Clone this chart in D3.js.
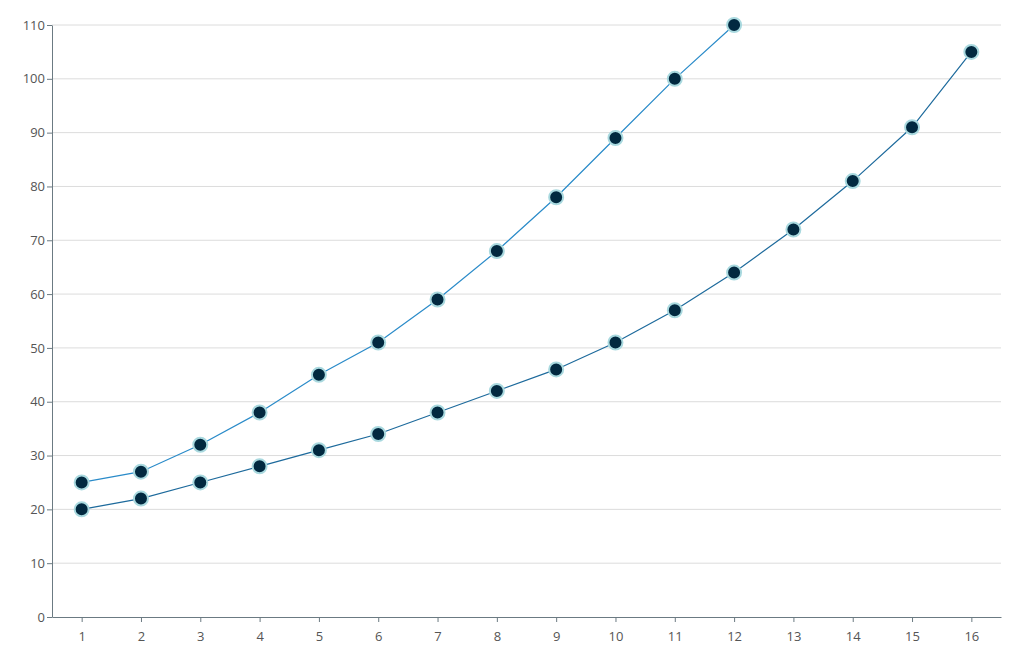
<!DOCTYPE html>
<html>
<head>
<meta charset="utf-8">
<script src="https://cdn.jsdelivr.net/npm/d3@7"></script>
<style>
  body { margin: 0; background: #fff; }
  .grid line { stroke: #dcdcdc; }
  .axis text { fill: #555; font-size: 13px; font-family: "Open Sans", "Noto Sans", sans-serif; }
  .axis path, .axis line { stroke: #6b7a82; }
</style>
</head>
<body>
<div id="chart"></div>
<script>
const xValues = [1, 2, 3, 4, 5, 6, 7, 8, 9, 10, 11, 12, 13, 14, 15, 16];
const seriesA = [25, 27, 32, 38, 45, 51, 59, 68, 78, 89, 100, 110];
const seriesB = [20, 22, 25, 28, 31, 34, 38, 42, 46, 51, 57, 64, 72, 81, 91, 105];
const yTicks = [0, 10, 20, 30, 40, 50, 60, 70, 80, 90, 100, 110];

const w = 1033;
const h = 655;
const margin = { top: 25, right: 32, bottom: 38, left: 52 };

const svg = d3
  .select("#chart")
  .append("svg")
  .attr("width", w)
  .attr("height", h);

const xScale = d3
  .scaleLinear()
  .domain([0.5, 16.5])
  .range([margin.left, w - margin.right]);

const yScale = d3
  .scaleLinear()
  .domain([0, 110])
  .range([h - margin.bottom, margin.top]);

// gridlines
svg
  .append("g")
  .attr("class", "grid")
  .selectAll("line")
  .data(yTicks.slice(1))
  .enter()
  .append("line")
  .attr("x1", margin.left)
  .attr("x2", w - margin.right)
  .attr("y1", (d) => yScale(d))
  .attr("y2", (d) => yScale(d));

const xAxis = d3.axisBottom(xScale).tickValues(xValues).tickSize(5).tickSizeOuter(0);
const yAxis = d3.axisLeft(yScale).tickValues(yTicks).tickSize(5).tickSizeOuter(0);

svg
  .append("g")
  .attr("class", "axis")
  .attr("transform", "translate(0," + (h - margin.bottom) + ")")
  .call(xAxis)
  .call((g) => g.selectAll(".tick text").attr("dy", "1.2em"));

svg
  .append("g")
  .attr("class", "axis")
  .attr("transform", "translate(" + margin.left + ",0)")
  .call(yAxis)
  .call((g) => g.selectAll(".tick text").attr("x", -7));

const series = [
  { values: seriesA, color: "#2a8bc9" },
  { values: seriesB, color: "#1d6a9c" },
];

const line = d3
  .line()
  .x((d, i) => xScale(xValues[i]))
  .y((d) => yScale(d));

series.forEach((s) => {
  svg
    .append("path")
    .datum(s.values)
    .attr("fill", "none")
    .attr("stroke", s.color)
    .attr("stroke-width", 1.2)
    .attr("d", line);
});

series.forEach((s) => {
  svg
    .append("g")
    .selectAll("circle")
    .data(s.values)
    .enter()
    .append("circle")
    .attr("cx", (d, i) => xScale(xValues[i]))
    .attr("cy", (d) => yScale(d))
    .attr("r", 7)
    .attr("fill", "#022940")
    .attr("stroke", "#a9d9df")
    .attr("stroke-width", 2);
});
</script>
</body>
</html>
